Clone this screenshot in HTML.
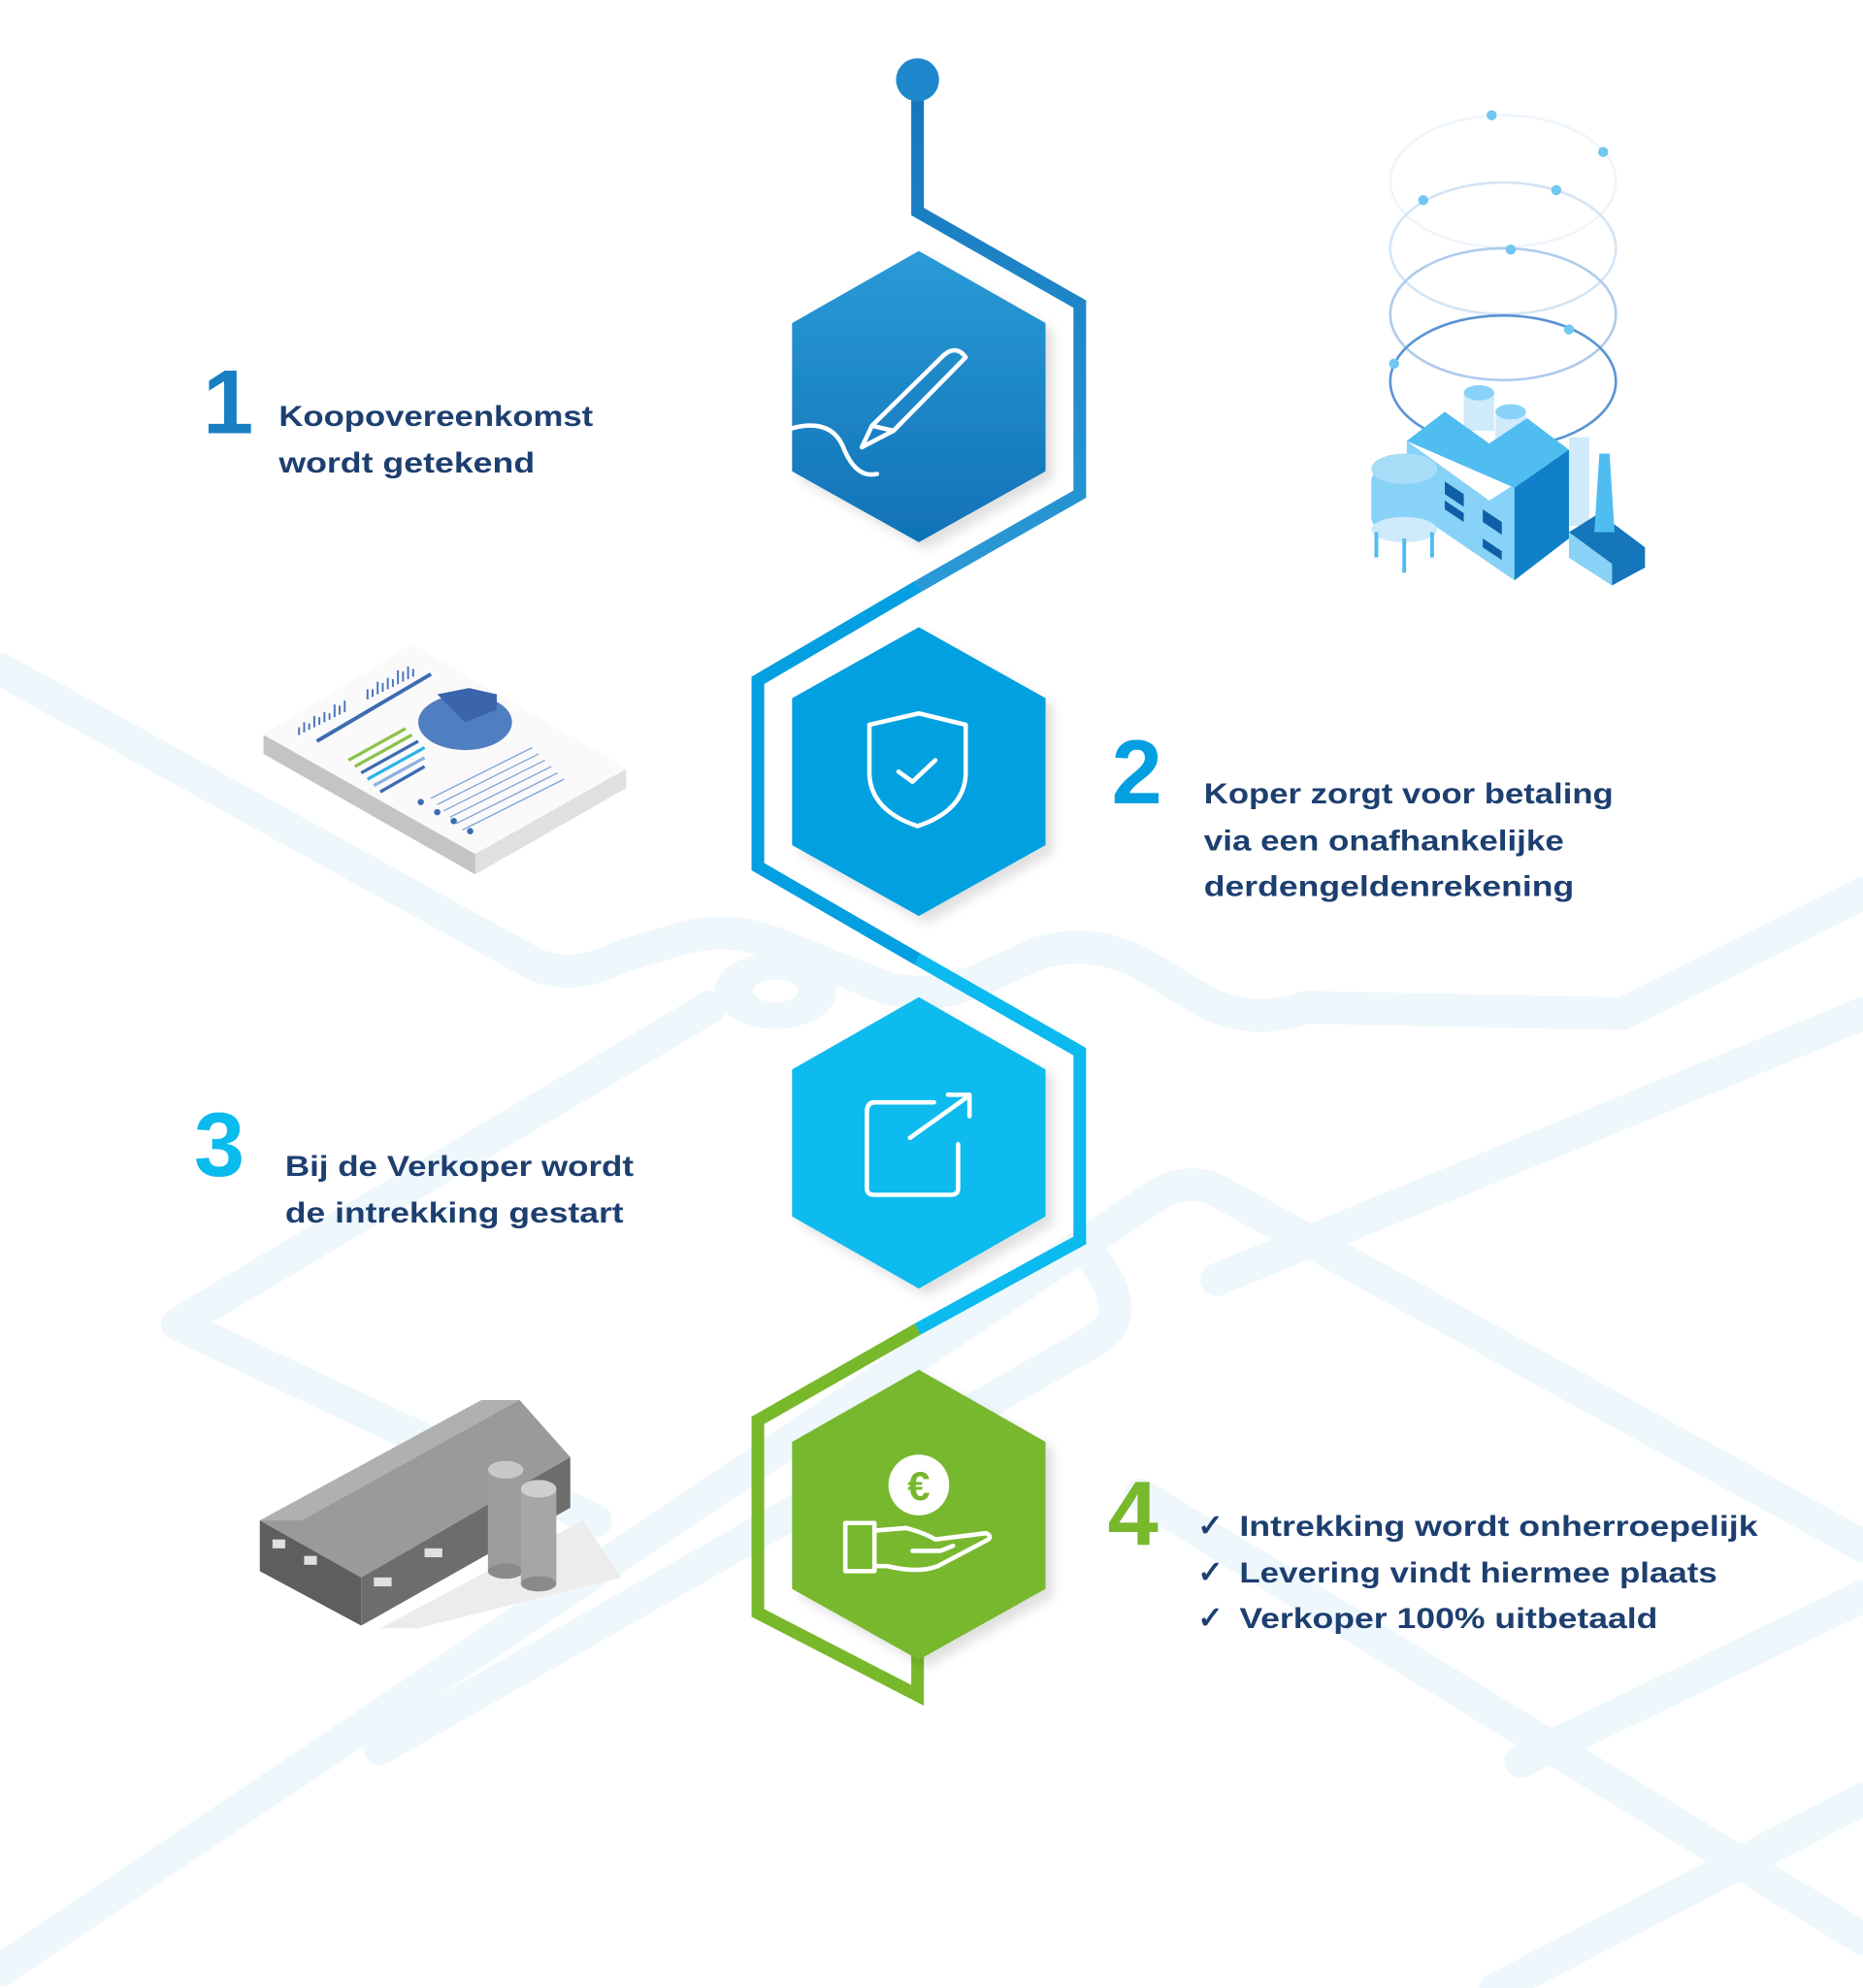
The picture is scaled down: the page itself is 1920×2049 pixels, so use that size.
<!DOCTYPE html>
<html><head><meta charset="utf-8"><style>
html,body{margin:0;padding:0;background:#fff;}
svg{display:block;}
text{font-family:"Liberation Sans",sans-serif;font-weight:bold;}
</style></head><body>
<svg width="1920" height="2049" viewBox="0 0 1470 1569" preserveAspectRatio="none" xmlns="http://www.w3.org/2000/svg">
<defs>
<linearGradient id="g1" x1="0" y1="0" x2="0" y2="1"><stop offset="0" stop-color="#2a9bd7"/><stop offset="1" stop-color="#1072b7"/></linearGradient>
<linearGradient id="gl1" x1="0" y1="0" x2="0" y2="1"><stop offset="0" stop-color="#1576bb"/><stop offset="1" stop-color="#2a9ad6"/></linearGradient>
<filter id="sh" x="-20%" y="-20%" width="150%" height="150%"><feDropShadow dx="6" dy="6" stdDeviation="4" flood-color="#000" flood-opacity="0.12"/></filter>
</defs>

<!-- background roads -->
<g fill="none" stroke="#eef7fc" stroke-width="26" stroke-linejoin="round" stroke-linecap="round">
<path d="M0,528 L420,760 Q450,775 490,755 L540,740 Q580,730 620,748 L700,780 Q740,790 780,770 L820,752 Q860,740 900,760 L950,790 Q990,810 1030,795 L1280,800 L1470,705"/>
<path d="M560,795 L140,1045 L470,1200"/>
<path d="M0,1555 L910,945 Q940,925 970,945 L1470,1220"/>
<path d="M860,990 Q900,1040 860,1060 L300,1380"/>
<path d="M960,1010 L1470,800"/>
<path d="M1200,1390 L1470,1260"/>
<path d="M1180,1570 L1470,1420"/>
<path d="M900,1180 L1470,1530"/>
</g>
<ellipse cx="612" cy="782" rx="48" ry="30" fill="#eef7fc"/>
<ellipse cx="612" cy="782" rx="18" ry="9" fill="#fff"/>

<!-- document -->
<g>
<polygon points="208,580 325,509 494,607 494,622 375,690 208,595" fill="#cfcfcf"/>
<polygon points="208,580 375,674 375,690 208,595" fill="#c4c4c4"/>
<polygon points="375,674 494,607 494,622 375,690" fill="#e0e0e0"/>
<polygon points="208,580 325,509 494,607 375,674" fill="#fafafa"/>
<ellipse cx="367" cy="570" rx="37" ry="22" fill="#4f7fc0"/>
<path d="M345,548 L370,543 L392,548 L392,560 L367,570 Z" fill="#3a64ab"/>
<g stroke="#3d6bb3" stroke-width="3">
<line x1="250" y1="585" x2="340" y2="532"/>
</g>
<g stroke="#4a73b9" stroke-width="1.5">
<path d="M236,580v-6M240,578v-8M244,576v-5M248,574v-9M252,572v-6M256,570v-8M260,568v-5M264,566v-10M268,564v-7M272,562v-9M290,552v-8M294,550v-6M298,548v-10M302,546v-7M306,544v-9M310,542v-6M314,540v-11M318,538v-8M322,536v-10M326,534v-6"/>
</g>
<g stroke-width="2.5">
<line x1="275" y1="600" x2="320" y2="575" stroke="#8bc34a"/>
<line x1="280" y1="605" x2="325" y2="580" stroke="#8bc34a"/>
<line x1="285" y1="610" x2="330" y2="585" stroke="#3d6bb3"/>
<line x1="290" y1="615" x2="335" y2="590" stroke="#2ab4e6"/>
<line x1="295" y1="620" x2="335" y2="598" stroke="#8fb0dd"/>
<line x1="300" y1="625" x2="335" y2="605" stroke="#3d6bb3"/>
</g>
<g stroke="#7ea4d8" stroke-width="1">
<line x1="340" y1="630" x2="420" y2="590"/><line x1="345" y1="635" x2="425" y2="595"/><line x1="350" y1="640" x2="430" y2="600"/><line x1="355" y1="645" x2="435" y2="605"/><line x1="360" y1="650" x2="440" y2="610"/><line x1="365" y1="655" x2="445" y2="615"/>
</g>
<g fill="#3d6bb3"><circle cx="332" cy="633" r="2.5"/><circle cx="345" cy="641" r="2.5"/><circle cx="358" cy="648" r="2.5"/><circle cx="371" cy="656" r="2.5"/></g>
</g>

<!-- factory -->
<g fill="none">
<ellipse cx="1186" cy="143" rx="89" ry="52" stroke="#eef5fb" stroke-width="2"/>
<ellipse cx="1186" cy="196" rx="89" ry="52" stroke="#d3e5f5" stroke-width="2"/>
<ellipse cx="1186" cy="248" rx="89" ry="52" stroke="#aecbeb" stroke-width="2"/>
<ellipse cx="1186" cy="301" rx="89" ry="52" stroke="#5a93d4" stroke-width="2"/>
</g>
<g fill="#71c7f1"><circle cx="1177" cy="91" r="4"/><circle cx="1265" cy="120" r="4"/><circle cx="1123" cy="158" r="4"/><circle cx="1228" cy="150" r="4"/><circle cx="1192" cy="197" r="4"/><circle cx="1238" cy="260" r="4"/><circle cx="1100" cy="287" r="4"/></g>
<g>
<rect x="1155" y="310" width="24" height="30" fill="#cfeafb"/><ellipse cx="1167" cy="310" rx="12" ry="6" fill="#88d2f7"/>
<rect x="1180" y="325" width="24" height="25" fill="#cfeafb"/><ellipse cx="1192" cy="325" rx="12" ry="6" fill="#88d2f7"/>
<polygon points="1110,348 1175,395 1238,355 1238,420 1195,458 1110,400" fill="#88d2f7"/>
<polygon points="1110,348 1140,325 1175,350 1205,330 1238,355 1195,385 1110,348" fill="#4fbdf0"/>
<polygon points="1195,385 1238,355 1238,425 1195,458" fill="#0f7fc8"/>
<rect x="1238" y="345" width="16" height="70" fill="#cfeafb"/>
<polygon points="1238,420 1262,405 1298,432 1298,448 1272,462 1238,440" fill="#1576bb"/>
<polygon points="1238,420 1272,445 1272,462 1238,440" fill="#88d2f7"/>
<polygon points="1262,358 1270,358 1274,420 1258,420" fill="#4fbdf0"/>
<rect x="1082" y="370" width="52" height="48" rx="10" fill="#88d2f7"/>
<ellipse cx="1108" cy="370" rx="26" ry="12" fill="#a8ddf8"/>
<ellipse cx="1108" cy="418" rx="26" ry="10" fill="#cfeafb"/>
<g stroke="#4fbdf0" stroke-width="3"><line x1="1086" y1="420" x2="1086" y2="440"/><line x1="1108" y1="425" x2="1108" y2="452"/><line x1="1130" y1="420" x2="1130" y2="440"/></g>
<g fill="#0f5fa8"><polygon points="1140,380 1155,390 1155,400 1140,390"/><polygon points="1170,402 1185,412 1185,422 1170,412"/><polygon points="1140,395 1155,405 1155,412 1140,402"/><polygon points="1170,425 1185,435 1185,442 1170,432"/></g>
</g>

<!-- barn -->
<g>
<polygon points="300,1285 460,1200 490,1245 330,1285" fill="#ececec"/>
<polygon points="205,1200 380,1105 410,1105 450,1150 285,1245" fill="#9a9a9a"/>
<polygon points="205,1200 285,1245 285,1283 205,1240" fill="#5e5e5e"/>
<polygon points="285,1245 450,1150 450,1190 285,1283" fill="#6d6d6d"/>
<polygon points="205,1200 380,1105 410,1105 238,1200" fill="#b0b0b0"/>
<rect x="385" y="1160" width="28" height="80" fill="#9c9c9c"/><ellipse cx="399" cy="1160" rx="14" ry="7" fill="#c8c8c8"/><ellipse cx="399" cy="1240" rx="14" ry="6" fill="#8a8a8a"/>
<rect x="411" y="1175" width="28" height="75" fill="#a6a6a6"/><ellipse cx="425" cy="1175" rx="14" ry="7" fill="#cfcfcf"/><ellipse cx="425" cy="1250" rx="14" ry="6" fill="#8a8a8a"/>
<g fill="#e0e0e0"><rect x="295" y="1245" width="14" height="7"/><rect x="335" y="1222" width="14" height="7"/><rect x="215" y="1215" width="10" height="7"/><rect x="240" y="1228" width="10" height="7"/></g>
</g>

<!-- connector path -->
<g fill="none" stroke-width="10" stroke-linejoin="miter">
<path d="M724,63 L724,167 L852,240 L852,390 L724,463" stroke="url(#gl1)"/>
<path d="M724,463 L598,537 L598,684 L724,757" stroke="#039fe1"/>
<path d="M724,757 L852,830 L852,979 L724,1049" stroke="#0bbaee"/>
<path d="M724,1049 L598,1121 L598,1273 L724,1338 L724,1300" stroke="#78b82b"/>
</g>
<circle cx="724" cy="63" r="17" fill="#1f88cc"/>

<!-- hexes -->
<polygon points="725,198 825,255 825,372 725,428 625,372 625,255" fill="url(#g1)" filter="url(#sh)"/>
<polygon points="725,495 825,551 825,667 725,723 625,667 625,551" fill="#03a0e1" filter="url(#sh)"/>
<polygon points="725,787 825,844 825,960 725,1017 625,960 625,844" fill="#0abbee" filter="url(#sh)"/>
<polygon points="725,1081 825,1138 825,1254 725,1310 625,1254 625,1138" fill="#78b82d" filter="url(#sh)"/>

<!-- icons -->
<g fill="none" stroke="#fff" stroke-width="3.5" stroke-linejoin="round" stroke-linecap="round">
<path d="M625,338 Q655,330 665,352 Q675,378 692,374"/>
<path d="M680,353 L688,336 L745,280 Q755,272 762,282 L705,340 Z"/>
<path d="M688,336 L705,340"/>
<path d="M725,563 L762,572 L762,612 Q760,640 724,652 Q688,640 686,612 L686,572 Z"/>
<path d="M709,609 L720,617 L738,600"/>
<path d="M737,870 L690,870 Q684,870 684,878 L684,938 Q684,943 690,943 L750,943 Q756,943 756,938 L756,903"/>
<path d="M718,898 L763,866 M748,864 L765,864 L765,881"/>
<path d="M667,1202 L690,1202 L690,1240 L667,1240 Z"/>
<path d="M690,1208 L715,1206 Q730,1210 738,1215 L778,1210 Q784,1213 778,1216 L740,1236 Q725,1242 700,1236 L690,1236"/>
<path d="M720,1224 L742,1224 L752,1220"/>
</g>
<circle cx="725" cy="1172" r="24" fill="#fff"/>
<text x="725" y="1184" font-size="32" fill="#78b82d" text-anchor="middle">€</text>

<!-- numbers and labels -->
<text x="160" y="342" font-size="72" fill="#1a7ec3">1</text>
<text x="220" y="336" font-size="23" fill="#1d3f70" textLength="248" lengthAdjust="spacingAndGlyphs">Koopovereenkomst</text>
<text x="220" y="373" font-size="23" fill="#1d3f70" textLength="202" lengthAdjust="spacingAndGlyphs">wordt getekend</text>

<text x="877" y="634" font-size="72" fill="#039fe1">2</text>
<text x="950" y="634" font-size="23" fill="#1d3f70" textLength="323" lengthAdjust="spacingAndGlyphs">Koper zorgt voor betaling</text>
<text x="950" y="671" font-size="23" fill="#1d3f70" textLength="284" lengthAdjust="spacingAndGlyphs">via een onafhankelijke</text>
<text x="950" y="707" font-size="23" fill="#1d3f70" textLength="292" lengthAdjust="spacingAndGlyphs">derdengeldenrekening</text>

<text x="153" y="928" font-size="72" fill="#0abbee">3</text>
<text x="225" y="928" font-size="23" fill="#1d3f70" textLength="275" lengthAdjust="spacingAndGlyphs">Bij de Verkoper wordt</text>
<text x="225" y="965" font-size="23" fill="#1d3f70" textLength="267" lengthAdjust="spacingAndGlyphs">de intrekking gestart</text>

<text x="874" y="1219" font-size="72" fill="#78b82d">4</text>
<text x="945" y="1212" font-size="24" fill="#1d3f70">✓</text>
<text x="945" y="1249" font-size="24" fill="#1d3f70">✓</text>
<text x="945" y="1285" font-size="24" fill="#1d3f70">✓</text>
<text x="978" y="1212" font-size="23" fill="#1d3f70" textLength="409" lengthAdjust="spacingAndGlyphs">Intrekking wordt onherroepelijk</text>
<text x="978" y="1249" font-size="23" fill="#1d3f70" textLength="377" lengthAdjust="spacingAndGlyphs">Levering vindt hiermee plaats</text>
<text x="978" y="1285" font-size="23" fill="#1d3f70" textLength="330" lengthAdjust="spacingAndGlyphs">Verkoper 100% uitbetaald</text>
</svg>
</body></html>
